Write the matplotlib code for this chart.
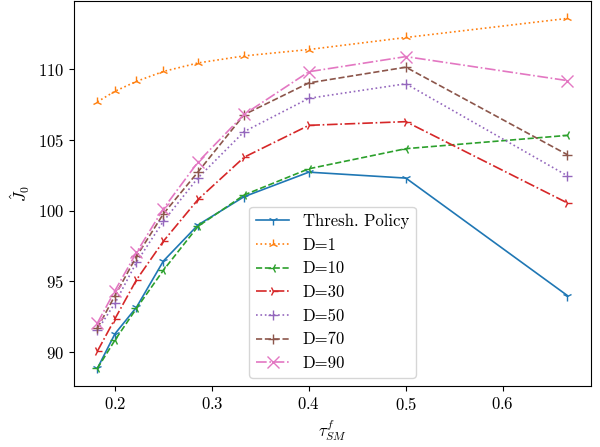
import matplotlib
matplotlib.use("Agg")
import matplotlib.pyplot as plt

plt.rcParams['font.family'] = 'serif'
plt.rcParams['font.serif'] = ['cmr10']
plt.rcParams['mathtext.fontset'] = 'cm'
plt.rcParams['axes.unicode_minus'] = False
plt.rcParams['axes.formatter.use_mathtext'] = True
plt.rcParams['font.size'] = 12

tau = [2/11, 2/10, 2/9, 2/8, 2/7, 2/6, 2/5, 2/4, 2/3]

thresh = [88.85, 91.3, 93.18, 96.45, 99.0, 101.0, 102.73, 102.31, 94.0]
d1 = [107.7, 108.45, 109.15, 109.85, 110.45, 110.95, 111.4, 112.25, 113.6]
d10 = [88.85, 90.85, 93.1, 95.8, 98.9, 101.12, 102.97, 104.39, 105.33]
d30 = [90.06, 92.36, 95.12, 97.85, 100.8, 103.79, 106.04, 106.3, 100.55]
d50 = [91.55, 93.46, 96.36, 99.26, 102.33, 105.6, 107.95, 108.98, 102.47]
d70 = [91.69, 94.0, 96.77, 99.79, 102.75, 106.8, 109.04, 110.15, 103.96]
d90 = [92.05, 94.35, 97.05, 100.15, 103.45, 106.82, 109.83, 110.9, 109.2]

series = [
    ("Thresh. Policy", thresh, '-', '1'),
    ("D=1", d1, ':', '2'),
    ("D=10", d10, '--', '3'),
    ("D=30", d30, '-.', '4'),
    ("D=50", d50, ':', '+'),
    ("D=70", d70, '--', '+'),
    ("D=90", d90, '-.', 'x'),
]

fig = plt.figure(figsize=(6.0, 4.47), dpi=100)
ax = fig.add_axes([0.123, 0.1365, 0.862, 0.8615])
for i, (lab, vals, ls, mk) in enumerate(series):
    ms = 8 if mk in ('x',) else 7
    ax.plot(tau, vals, linestyle=ls, marker=mk, color=f'C{i}', label=lab,
            linewidth=1.2, markersize=ms)

ax.set_xlabel(r'$\tau_{SM}^f$')
ax.set_ylabel(r'$\hat{J}_0$')
ax.set_xticks([0.2, 0.3, 0.4, 0.5, 0.6])
ax.set_yticks([90, 95, 100, 105, 110])
ax.legend(loc='lower center')

fig.savefig('out.png', dpi=100)
